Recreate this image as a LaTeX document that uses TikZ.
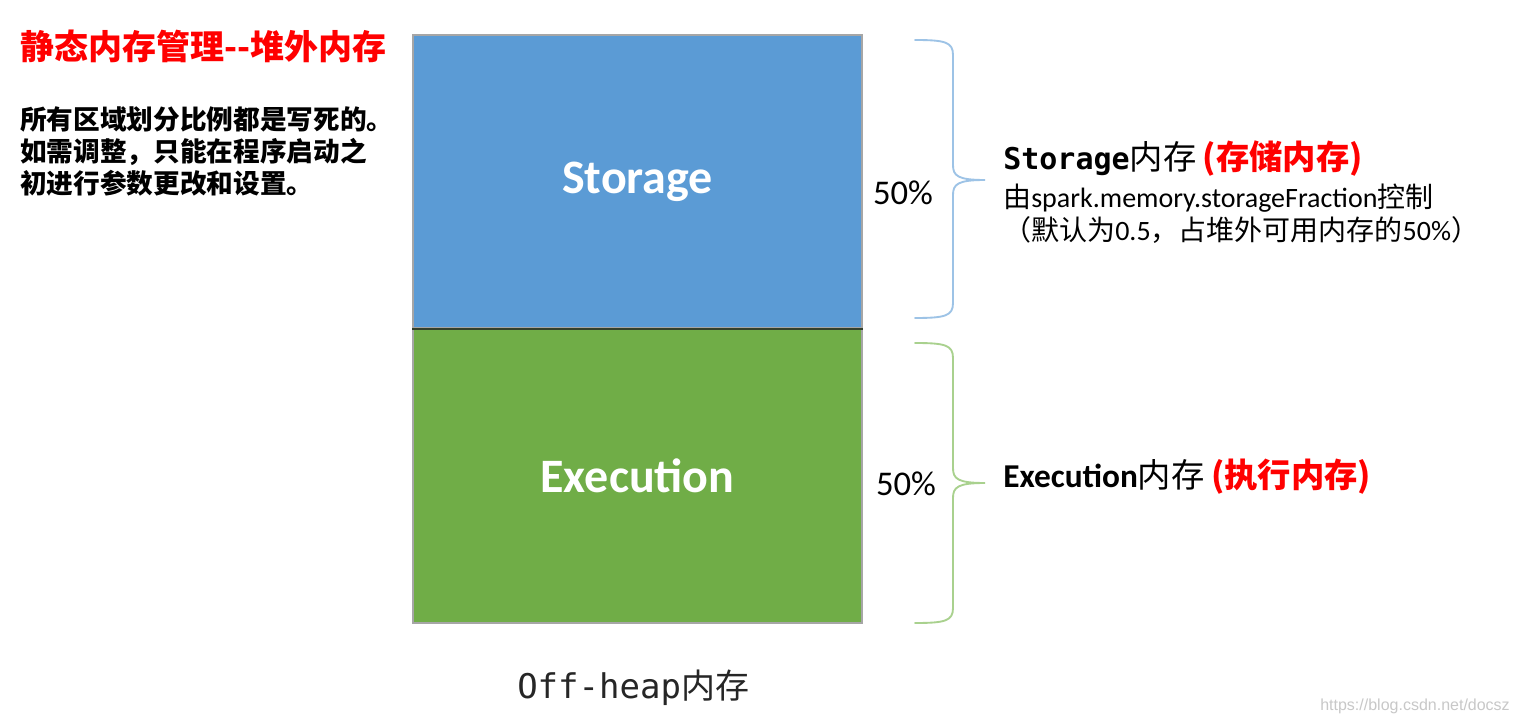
\documentclass[tikz,border=0pt]{standalone}
\usepackage{fontspec}
\setmainfont{Carlito}
\newfontfamily\cjkf{Noto Sans CJK SC}
\newfontfamily\calf{Carlito}
\newfontfamily\monof{DejaVu Sans Mono}
\newfontfamily\wmf{Liberation Sans}
\definecolor{storblue}{HTML}{5B9BD5}
\definecolor{execgreen}{HTML}{70AD47}
\definecolor{boxedge}{HTML}{A6A6A6}
\definecolor{divline}{HTML}{34402C}
\definecolor{braceblue}{HTML}{9DC3E6}
\definecolor{bracegreen}{HTML}{A9D18E}
\definecolor{offgray}{HTML}{262626}
\definecolor{wmgray}{HTML}{C8C8C8}
\tikzset{
  membox/.style={draw=boxedge,line width=1.5pt,minimum width=336.75pt,inner sep=0,
    text=white,font=\calf\bfseries\fontsize{36}{40}\selectfont},
  pct/.style={font=\calf\fontsize{26}{30}\selectfont,text=black,inner sep=0},
  bracestyle/.style={line width=1.4pt,line cap=round},
  plain/.style={inner sep=0,anchor=base west,text=black},
  note/.style={plain,font=\cjkf\bfseries\fontsize{20}{24}\selectfont},
  redcn/.style={plain,text=red,font=\cjkf\bfseries\fontsize{25}{30}\selectfont}
}
\begin{document}
\begin{tikzpicture}[x=0.75pt,y=-0.75pt]
\useasboundingbox (0,0) rectangle (1518,720);
\fill[white] (0,0) rectangle (1518,720);

% boxes
\node[membox,fill=storblue,minimum height=219.75pt] (storage) at (637.5,181.5) {Storage};
\node[membox,fill=execgreen,minimum height=221.25pt] (execution) at (637.5,475.5) {Execution};
\draw[divline,line width=1.6pt] (storage.south west) -- (storage.south east);

% braces
\draw[bracestyle,braceblue] (915,40) .. controls (945,40) and (953,42) .. (953,55)
  -- (953,165) .. controls (953,176) and (958,180) .. (985,180)
  .. controls (958,180) and (953,184) .. (953,195)
  -- (953,303) .. controls (953,316) and (945,318) .. (915,318);
\draw[bracestyle,bracegreen] (915,343) .. controls (945,343) and (953,345) .. (953,358)
  -- (953,468) .. controls (953,479) and (958,483) .. (985,483)
  .. controls (958,483) and (953,487) .. (953,498)
  -- (953,608) .. controls (953,621) and (945,623) .. (915,623);

% percentages
\node[pct] (pcts) at (903,193) {50\%};
\node[pct] (pcte) at (906,484) {50\%};

% title and notes
\node[plain,anchor=west,text=red,font=\cjkf\bfseries\fontsize{25.5}{30}\selectfont] (title) at (20,46) {静态内存管理--堆外内存};
\node[note] (note1) at (20,130) {所有区域划分比例都是写死的。};
\node[note] (note2) at (20,162) {如需调整，只能在程序启动之};
\node[note] (note3) at (20,194) {初进行参数更改和设置。};

% storage labels
\node[plain] (storh) at (1003,170) {{\monof\bfseries\fontsize{22.5}{30}\selectfont Storage}{\cjkf\fontsize{25}{30}\selectfont 内存}};
\node[redcn] (storcn) at ([shift={(6,0)}]storh.base east) {(存储内存)};
\node[plain] (desc1) at (1003,208) {\fontsize{21}{25}\selectfont{\cjkf 由}{\calf spark.memory.storageFraction}{\cjkf 控制}};
\node[plain] (desc2) at (1003,241) {\fontsize{21}{25}\selectfont{\cjkf （默认为}{\calf 0.5}{\cjkf ，占堆外可用内存的}{\calf 50\%}{\cjkf ）}};

% execution labels
\node[plain] (exech) at (1003,487) {\fontsize{25}{30}\selectfont{\calf\bfseries Execution}{\cjkf 内存}};
\node[redcn] (execcn) at ([shift={(6,0)}]exech.base east) {(执行内存)};

% bottom caption
\node[plain,text=offgray] (offheap) at (517,698) {\fontsize{25.5}{30}\selectfont{\monof Off-heap}{\cjkf 内存}};

% watermark
\node[inner sep=0,anchor=base east,text=wmgray] (wm) at (1510,710) {\wmf\fontsize{12}{14}\selectfont https://blog.csdn.net/docsz};
\end{tikzpicture}
\end{document}
